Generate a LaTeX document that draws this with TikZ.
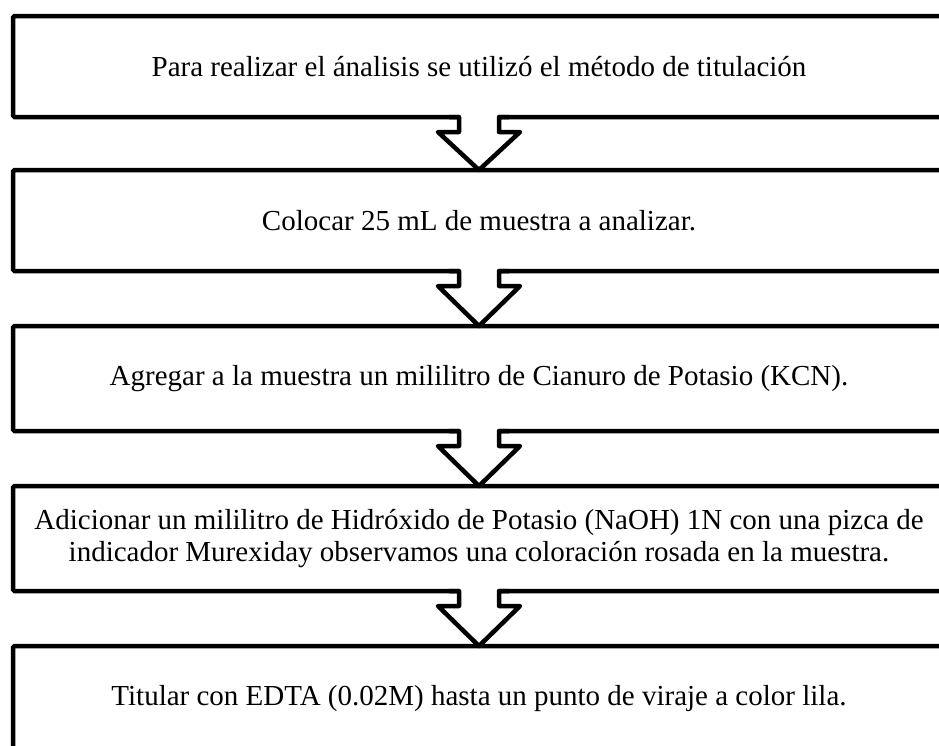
\documentclass[tikz,border=0pt]{standalone}
\usepackage{fontspec}
\setmainfont{Liberation Serif}
\usetikzlibrary{positioning,calc}

\begin{document}
\begin{tikzpicture}[x=1pt,y=-1pt,
    every node/.style={font=\fontsize{29}{32}\selectfont},
    stepbox/.style={draw,line width=4.5pt,rounded corners=1.5pt,outer sep=0pt,
                    minimum width=932pt,align=center},
    flowline/.style={line width=4.5pt,line join=round}]
  \useasboundingbox (0,0) rectangle (939,745);
  \clip (0,0) rectangle (939,745);
  \node[stepbox,minimum height=101pt] (b1) at (479,66.5)
        {Para realizar el ánalisis se utilizó el método de titulación};
  \node[stepbox,minimum height=101pt,below=53pt of b1] (b2)
        {Colocar 25 mL de muestra a analizar.};
  \node[stepbox,minimum height=105pt,below=55pt of b2] (b3)
        {Agregar a la muestra un mililitro de Cianuro de Potasio (KCN).};
  \node[stepbox,minimum height=105pt,below=55pt of b3] (b4)
        {Adicionar un mililitro de Hidróxido de Potasio (NaOH) 1N con una pizca de\\
         indicador Murexiday observamos una coloración rosada en la muestra.};
  \node[stepbox,minimum height=105pt,below=55pt of b4] (b5)
        {Titular con EDTA (0.02M) hasta un punto de viraje a color lila.};
  % block arrows cut into the box outlines
  \foreach \a/\b in {b1/b2,b2/b3,b3/b4,b4/b5}{
    \fill[white] ($(\a.south)+(-20,-4)$) rectangle ($(\a.south)+(20,15)$);
    \draw[flowline] ($(\a.south)+(-30,0)$) -- ++(10,0) -- ++(0,15) -- ++(-21,0)
      -- (\b.north) -- ($(\a.south)+(41,15)$) -- ++(-21,0) -- ++(0,-15) -- ++(10,0);
  }
\end{tikzpicture}
\end{document}
